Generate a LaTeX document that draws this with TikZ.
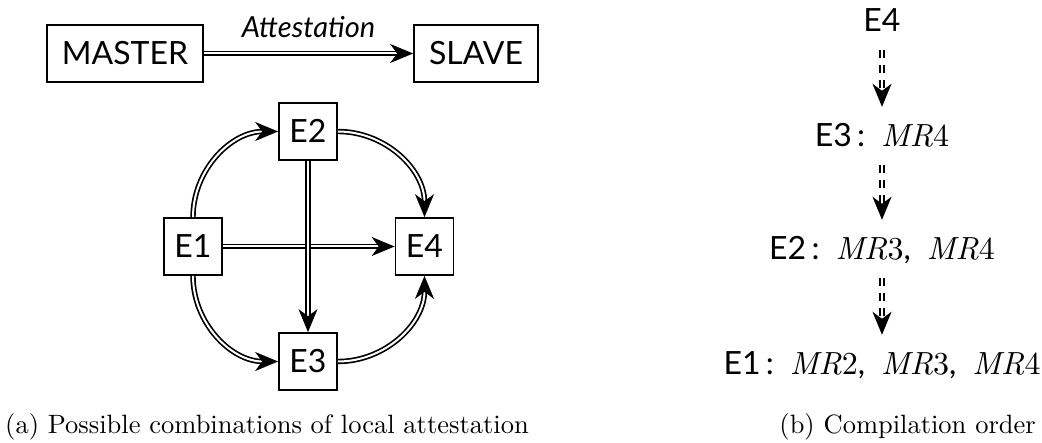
\documentclass[tikz,border=0pt]{standalone}
\usepackage{fontspec}
\newfontfamily\nodefont{Lato}
\newfontfamily\capfont{lmroman10-regular.otf}
\newfontfamily\mrfont{lmroman10-italic.otf}
\newcommand{\mr}[1]{{\mrfont MR}{\capfont #1}}
\usetikzlibrary{arrows.meta}
\begin{document}
\begin{tikzpicture}[x=1pt,y=1pt,
  nfont/.style={font=\nodefont\fontsize{32}{38}\selectfont},
  box/.style={draw, line width=1.7pt, inner sep=0pt, text height=22pt, text depth=0pt, nfont},
  ebox/.style={box, minimum width=58pt, minimum height=57pt},
  dbl/.style={double, double distance=2pt, line width=1.7pt, -{Stealth[length=23pt,width=19pt,inset=7pt]}},
  dashdbl/.style={dbl, dash pattern=on 8pt off 7pt},
  order/.style={nfont, text height=22pt, text depth=0pt, inner xsep=0pt, inner ysep=18pt},
  captext/.style={font=\capfont\fontsize{26.5}{32}\selectfont, inner sep=0pt}
]
\useasboundingbox (0,0) rectangle (1042,-443);

% (a) top: master / slave
\node[box, minimum width=156pt, minimum height=57pt] (master) at (125,-53.5) {MASTER};
\node[box, minimum width=124pt, minimum height=57pt] (slave) at (476,-53.5) {SLAVE};
\draw[dbl] (master) -- (slave)
  node[midway, anchor=base, yshift=16pt, inner sep=0pt, font=\nodefont\itshape\fontsize{29}{34}\selectfont] {Attestation};

% (a) diamond
\node[ebox] (e1) at (193,-246.5) {E1};
\node[ebox] (e2) at (308,-131.5) {E2};
\node[ebox] (e3) at (308,-361.5) {E3};
\node[ebox] (e4) at (424.5,-246.5) {E4};

\draw[dbl] (e1.north) to[out=90,in=180] (e2.west);
\draw[dbl] (e2.east) to[out=0,in=90] (e4.north);
\draw[dbl] (e1.south) to[out=-90,in=180] (e3.west);
\draw[dbl] (e3.east) to[out=0,in=-90] (e4.south);
\draw[dbl] (e1) -- (e4);
\draw[dbl] (e2) -- (e3);

% (b) compilation order
\node[order] (r4) at (882,-21) {E4};
\node[order] (r3) at (882,-136) {E3\,:\enspace\mr{4}};
\node[order] (r2) at (882,-249) {E2\,:\enspace\mr{3},\enspace\mr{4}};
\node[order] (r1) at (882,-364) {E1\,:\enspace\mr{2},\enspace\mr{3},\enspace\mr{4}};

\draw[dashdbl] (r4) -- (r3);
\draw[dashdbl] (r3) -- (r2);
\draw[dashdbl] (r2) -- (r1);

% captions
\node[captext, anchor=base west] (capa) at (5,-434) {(a) Possible combinations of local attestation};
\node[captext, anchor=base east] (capb) at (1036,-434) {(b) Compilation order};
\end{tikzpicture}
\end{document}
